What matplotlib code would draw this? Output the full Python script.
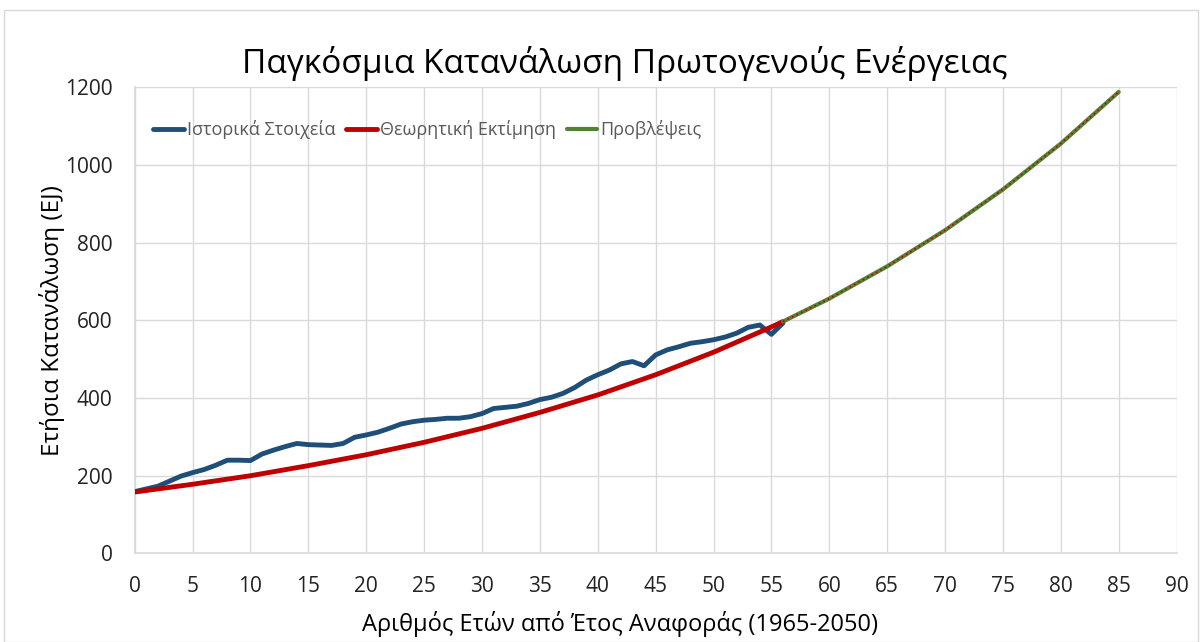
import matplotlib.pyplot as plt
from matplotlib.patches import Rectangle

# Ιστορικά στοιχεία (EJ), ένα σημείο ανά έτος από το 1965
hist_x = list(range(0, 57))
hist_y = [159, 166, 173, 186, 199, 208, 216, 227, 240, 240,
          239, 256, 266, 275, 283, 280, 279, 278, 283, 299,
          305, 312, 322, 333, 339, 343, 345, 348, 348, 352,
          360, 373, 376, 379, 386, 396, 402, 412, 427, 446,
          460, 472, 488, 494, 483, 511, 524, 532, 541, 545,
          550, 557, 567, 582, 588, 564, 593]

# Θεωρητική εκτίμηση
theo_x = [0, 5, 10, 15, 20, 25, 30, 35, 40, 45, 50, 55, 56]
theo_y = [158, 178, 200, 226, 254, 286, 322, 363, 408, 460, 518, 583, 597]

# Προβλέψεις
pred_x = [56, 60, 65, 70, 75, 80, 85]
pred_y = [597, 656, 739, 832, 937, 1055, 1188]

plt.rcParams['font.family'] = ['Open Sans', 'DejaVu Sans']

fig = plt.figure(figsize=(12.03, 6.42), dpi=100)
ax = fig.add_axes([0.112, 0.138, 0.866, 0.726])

fig.patches.append(Rectangle((0.003, 0.0), 0.993, 0.984, transform=fig.transFigure,
                             fill=False, edgecolor='#d9d9d9', lw=1))

ax.plot(hist_x, hist_y, color='#1f4e79', lw=3.5, solid_capstyle='round',
        solid_joinstyle='round', label='Ιστορικά Στοιχεία', zorder=3)
ax.plot(theo_x, theo_y, color='#c00000', lw=3.5, solid_capstyle='round',
        label='Θεωρητική Εκτίμηση', zorder=4)
ax.plot(pred_x, pred_y, color='#548235', lw=3, solid_capstyle='round',
        label='Προβλέψεις', zorder=5)
ax.plot(pred_x, pred_y, color='#c00000', lw=1.2, ls=(0, (1, 2)), zorder=6)

ax.set_xlim(0, 90)
ax.set_ylim(0, 1200)
ax.set_xticks(range(0, 91, 5))
ax.set_yticks(range(0, 1201, 200))
ax.grid(True, color='#d9d9d9', lw=1)
ax.set_axisbelow(True)
for s in ['top', 'right']:
    ax.spines[s].set_visible(False)
for s in ['left', 'bottom']:
    ax.spines[s].set_color('#d9d9d9')
    ax.spines[s].set_linewidth(1.2)
ax.tick_params(length=0, labelsize=15, colors='#222222')
ax.tick_params(axis='y', pad=16)
ax.tick_params(axis='x', pad=16)

ax.set_title('Παγκόσμια Κατανάλωση Πρωτογενούς Ενέργειας', fontsize=24, pad=10, x=0.47)
ax.set_xlabel('Αριθμός Ετών από Έτος Αναφοράς (1965-2050)', fontsize=17,
              labelpad=10, x=0.466)
ax.set_ylabel('Ετήσια Κατανάλωση (EJ)', fontsize=17.5, labelpad=0)

leg = ax.legend(loc='upper left', ncol=3, frameon=False, fontsize=13,
                handlelength=1.7, handletextpad=0.15, columnspacing=0.6,
                borderpad=0, borderaxespad=0, bbox_to_anchor=(0.018, 0.93))
for t in leg.get_texts():
    t.set_color('#595959')

fig.savefig('out.png', dpi=100)
